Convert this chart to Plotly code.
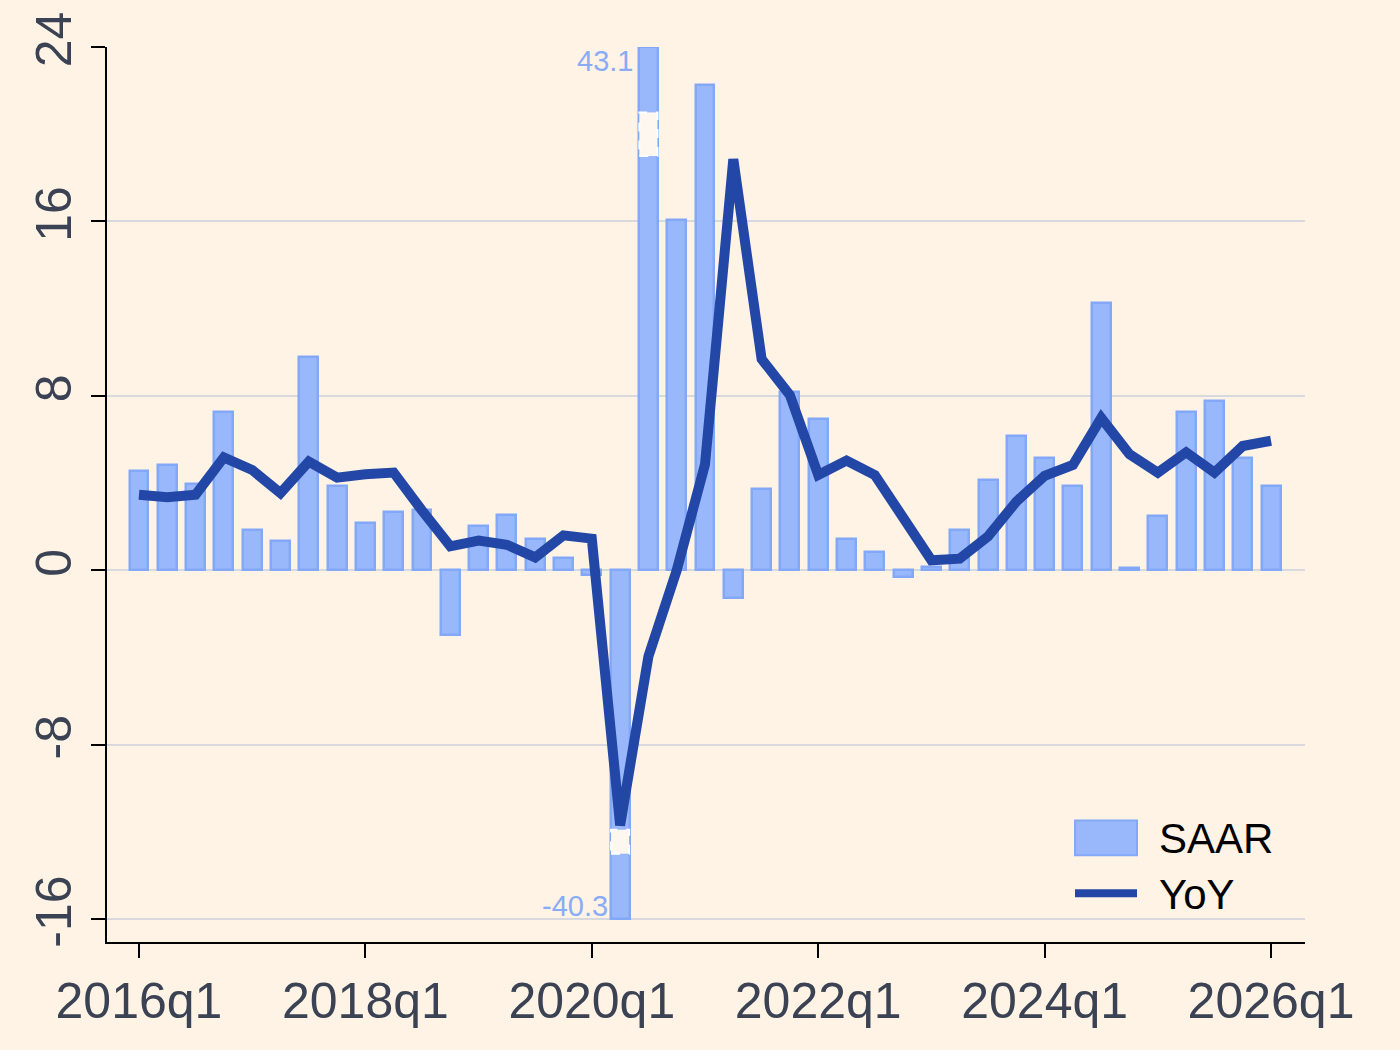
import plotly.graph_objects as go

# ---------------- data ----------------
quarters_idx = list(range(41))  # 2016q1 .. 2026q1
saar = [4.55, 4.85, 3.95, 7.25, 1.84, 1.35, 9.76, 3.85, 2.15, 2.65, 2.75,
        -2.98, 2.03, 2.52, 1.43, 0.54, -0.20, -40.3, 43.1, 16.05, 22.26,
        -1.28, 3.75, 8.16, 6.96, 1.45, 0.83, -0.30, 0.16, 1.84, 4.14,
        6.15, 5.16, 3.88, 12.27, 0.09, 2.47, 7.27, 7.77, 5.16, 3.88]
yoy = [3.46, 3.35, 3.46, 5.18, 4.60, 3.54, 4.98, 4.25, 4.40, 4.48, 2.74,
       1.10, 1.36, 1.17, 0.59, 1.60, 1.45, -11.7, -3.95, 0.0, 4.86,
       18.85, 9.69, 8.03, 4.37, 5.03, 4.37, 2.47, 0.46, 0.53, 1.55,
       3.15, 4.33, 4.83, 6.99, 5.32, 4.48, 5.41, 4.48, 5.70, 5.94]
xtick_vals = [0, 8, 16, 24, 32, 40]
xtick_labels = ["2016q1", "2018q1", "2020q1", "2022q1", "2024q1", "2026q1"]
ytick_vals = [-16, -8, 0, 8, 16, 24]
ytick_labels = ["-16", "-8", "0", "8", "16", "24"]

# ---------------- style ----------------
BG = "#fef3e5"
BAR_FILL = "#99b8fb"
BAR_EDGE = "#82a8f7"
LINE = "#2347a6"
TXT = "#3a4253"
GRID = "#d7d9df"
FONT = "Liberation Sans, Arial, sans-serif"
Y_LO, Y_HI = -16, 24
BAR_W = 0.67

# clip bars to the visible range
disp = [min(max(v, Y_LO), Y_HI) for v in saar]

fig = go.Figure()
fig.add_trace(go.Bar(
    x=quarters_idx, y=disp, width=BAR_W,
    marker=dict(color=BAR_FILL, line=dict(color=BAR_EDGE, width=2.5)),
    showlegend=False, hoverinfo="skip"))

# break marks on clipped bars
for i, v in enumerate(saar):
    if v > Y_HI or v < Y_LO:
        if v > Y_HI:
            b0, b1 = Y_HI - 5.0, Y_HI - 3.0
        else:
            b0, b1 = Y_LO + 3.0, Y_LO + 4.1
        hw = 0.32
        fig.add_trace(go.Scatter(
            x=[i - hw, i + hw, i + hw, i - hw, i - hw],
            y=[b0, b0, b1, b1, b0],
            mode="lines", fill="toself", fillcolor="#fdf7ef",
            line=dict(color="white", width=2, dash="dash"),
            showlegend=False, hoverinfo="skip"))
        fig.add_annotation(
            x=i - 0.36, y=Y_HI if v > Y_HI else Y_LO,
            xref="x", yref="y",
            text=f"{v:.1f}", showarrow=False,
            xanchor="right", yanchor="top" if v > Y_HI else "bottom",
            xshift=-3 if v > Y_HI else 0,
            yshift=4 if v > Y_HI else -5,
            font=dict(family=FONT, size=29, color="#8aabf6"))

fig.add_trace(go.Scatter(
    x=quarters_idx, y=yoy, mode="lines",
    line=dict(color=LINE, width=10),
    showlegend=False, hoverinfo="skip"))

# ---------------- manual legend ----------------
px0, px1 = 107, 1305
py0, py1 = 44, 942
def xp(px):
    return (px - px0) / (px1 - px0)
def yp(py):
    return (py1 - py) / (py1 - py0)

fig.add_shape(type="rect", xref="paper", yref="paper",
              x0=xp(1075), x1=xp(1137), y0=yp(855), y1=yp(820),
              fillcolor=BAR_FILL, line=dict(color=BAR_EDGE, width=2))
fig.add_shape(type="line", xref="paper", yref="paper",
              x0=xp(1075), x1=xp(1137), y0=yp(893), y1=yp(893),
              line=dict(color=LINE, width=8))
fig.add_annotation(x=xp(1157), y=yp(838), xref="paper", yref="paper",
                   text="SAAR", showarrow=False, xanchor="left", yanchor="middle",
                   font=dict(family=FONT, size=42, color="black"))
fig.add_annotation(x=xp(1157), y=yp(894), xref="paper", yref="paper",
                   text="YoY", showarrow=False, xanchor="left", yanchor="middle",
                   font=dict(family=FONT, size=42, color="black"))

fig.update_layout(
    width=1400, height=1050,
    margin=dict(l=107, r=95, t=44, b=108),
    paper_bgcolor=BG, plot_bgcolor=BG,
    bargap=0, barmode="overlay",
    font=dict(family=FONT, color=TXT),
)
fig.update_xaxes(
    range=[-1.13, 41.2], tickvals=xtick_vals, ticktext=xtick_labels,
    showgrid=False, zeroline=False,
    showline=True, linecolor="black", linewidth=2,
    ticks="outside", ticklen=14, tickwidth=1.5, tickcolor="black",
    tickfont=dict(family=FONT, size=50, color=TXT))
fig.update_yaxes(
    range=[-17.05, 24], tickvals=ytick_vals, ticktext=ytick_labels,
    showgrid=True, gridcolor=GRID, gridwidth=1.5, zeroline=False,
    showline=True, linecolor="black", linewidth=2,
    ticks="outside", ticklen=14, tickwidth=1.5, tickcolor="black",
    tickangle=-90,
    tickfont=dict(family=FONT, size=50, color=TXT))

fig.write_html("out.html")
